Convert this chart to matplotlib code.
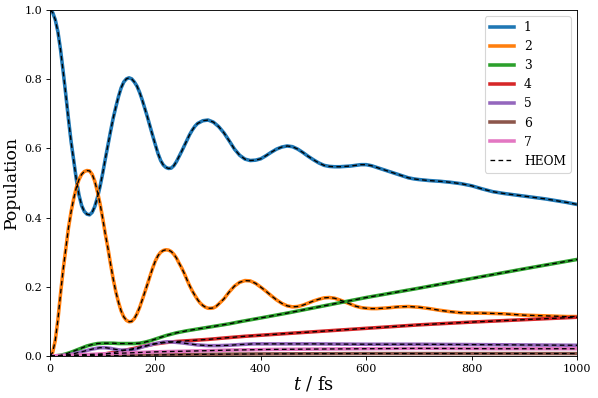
import matplotlib
matplotlib.use("Agg")
import matplotlib.pyplot as plt

# ---- data (t in fs, population) ----
t1 = [0, 5, 10, 15, 20, 25, 30, 35, 40, 45, 50, 55, 60, 65, 70, 75, 80, 85, 90, 95, 100,
      105, 110, 115, 120, 125, 130, 135, 140, 145, 150, 155, 160, 165, 170, 175, 180, 185,
      190, 195, 200, 205, 210, 215, 220, 225, 230, 235, 240, 245, 250, 255, 260, 265, 270,
      275, 280, 290, 300, 310, 320, 330, 340, 350, 360, 370, 380, 390, 400, 410, 420, 430,
      440, 450, 460, 470, 480, 490, 500, 510, 520, 530, 540, 550, 560, 570, 580, 590, 600,
      610, 620, 630, 640, 650, 660, 670, 680, 690, 700, 720, 740, 760, 780, 800, 820, 840,
      860, 880, 900, 920, 940, 960, 980, 1000]
p1 = [1.000, 0.993, 0.972, 0.937, 0.885, 0.822, 0.755, 0.685, 0.620, 0.565, 0.510, 0.465,
      0.435, 0.418, 0.410, 0.408, 0.415, 0.432, 0.458, 0.490, 0.528, 0.570, 0.610, 0.650,
      0.688, 0.720, 0.750, 0.775, 0.792, 0.801, 0.804, 0.801, 0.792, 0.780, 0.762, 0.740,
      0.715, 0.690, 0.663, 0.636, 0.610, 0.585, 0.565, 0.552, 0.545, 0.542, 0.543, 0.550,
      0.562, 0.577, 0.592, 0.608, 0.624, 0.640, 0.653, 0.664, 0.672, 0.680, 0.682, 0.676,
      0.663, 0.645, 0.622, 0.598, 0.580, 0.569, 0.565, 0.566, 0.570, 0.579, 0.589, 0.598,
      0.604, 0.607, 0.605, 0.598, 0.588, 0.577, 0.567, 0.558, 0.551, 0.548, 0.547, 0.547,
      0.548, 0.549, 0.551, 0.553, 0.553, 0.550, 0.545, 0.540, 0.535, 0.530, 0.525, 0.520,
      0.515, 0.512, 0.510, 0.507, 0.505, 0.502, 0.498, 0.492, 0.483, 0.475, 0.470, 0.466,
      0.462, 0.458, 0.454, 0.449, 0.444, 0.438]

t2 = [0, 5, 10, 15, 20, 25, 30, 35, 40, 45, 50, 55, 60, 65, 70, 75, 80, 85, 90, 95, 100,
      105, 110, 115, 120, 125, 130, 135, 140, 145, 150, 155, 160, 165, 170, 175, 180, 185,
      190, 195, 200, 205, 210, 215, 220, 225, 230, 235, 240, 245, 250, 255, 260, 265, 270,
      275, 280, 285, 290, 295, 300, 305, 310, 315, 320, 330, 340, 350, 360, 370, 380, 390,
      400, 410, 420, 430, 440, 450, 460, 470, 480, 490, 500, 510, 520, 530, 540, 550, 560,
      570, 580, 590, 600, 610, 620, 640, 660, 680, 700, 720, 740, 760, 780, 800, 820, 840,
      860, 880, 900, 920, 940, 960, 980, 1000]
p2 = [0.000, 0.010, 0.045, 0.105, 0.180, 0.250, 0.310, 0.370, 0.417, 0.455, 0.487, 0.510,
      0.525, 0.533, 0.536, 0.535, 0.525, 0.505, 0.475, 0.440, 0.398, 0.352, 0.311, 0.265,
      0.222, 0.185, 0.155, 0.130, 0.113, 0.103, 0.099, 0.100, 0.108, 0.122, 0.140, 0.162,
      0.185, 0.208, 0.232, 0.255, 0.275, 0.290, 0.300, 0.305, 0.307, 0.306, 0.302, 0.294,
      0.283, 0.268, 0.254, 0.238, 0.220, 0.203, 0.188, 0.175, 0.163, 0.153, 0.146, 0.141,
      0.138, 0.138, 0.139, 0.143, 0.150, 0.165, 0.185, 0.202, 0.213, 0.218, 0.217, 0.210,
      0.199, 0.187, 0.174, 0.162, 0.152, 0.145, 0.142, 0.143, 0.147, 0.153, 0.159, 0.164,
      0.168, 0.169, 0.167, 0.162, 0.156, 0.150, 0.144, 0.140, 0.138, 0.137, 0.137, 0.139,
      0.142, 0.143, 0.141, 0.137, 0.132, 0.128, 0.125, 0.124, 0.124, 0.123, 0.122, 0.120,
      0.118, 0.117, 0.116, 0.115, 0.114, 0.114]

t3 = [0, 10, 20, 30, 40, 50, 60, 70, 80, 90, 100, 110, 120, 130, 140, 150, 160, 170, 180,
      190, 200, 210, 220, 230, 240, 250, 260, 280, 300, 320, 340, 360, 400, 450, 500, 600,
      700, 800, 900, 1000]
p3 = [0.0, 0.0005, 0.002, 0.006, 0.011, 0.017, 0.023, 0.029, 0.033, 0.036, 0.037, 0.037,
      0.037, 0.036, 0.036, 0.036, 0.036, 0.037, 0.040, 0.044, 0.049, 0.054, 0.059, 0.063,
      0.067, 0.070, 0.073, 0.078, 0.083, 0.088, 0.093, 0.099, 0.110, 0.124, 0.139, 0.169,
      0.196, 0.224, 0.252, 0.279]

t4 = [0, 40, 80, 100, 120, 140, 160, 180, 200, 220, 240, 260, 280, 300, 330, 370, 400, 450,
      500, 600, 700, 800, 900, 1000]
p4 = [0.0, 0.0005, 0.002, 0.005, 0.010, 0.016, 0.022, 0.029, 0.035, 0.039, 0.042, 0.044,
      0.046, 0.048, 0.052, 0.057, 0.060, 0.065, 0.070, 0.080, 0.090, 0.098, 0.105, 0.112]

t5 = [0, 20, 40, 60, 80, 95, 105, 115, 125, 135, 145, 155, 165, 175, 185, 200, 215, 225, 235,
      250, 265, 280, 300, 320, 340, 360, 385, 420, 500, 600, 700, 800, 900, 1000]
p5 = [0.0, 0.001, 0.005, 0.012, 0.020, 0.024, 0.024, 0.022, 0.019, 0.017, 0.017, 0.018,
      0.021, 0.026, 0.030, 0.036, 0.040, 0.041, 0.040, 0.038, 0.035, 0.032, 0.030, 0.030,
      0.031, 0.033, 0.035, 0.035, 0.035, 0.034, 0.034, 0.033, 0.032, 0.031]

t6 = [0, 100, 200, 300, 400, 600, 1000]
p6 = [0.0, 0.001, 0.003, 0.005, 0.006, 0.007, 0.007]

t7 = [0, 50, 100, 150, 200, 260, 340, 420, 500, 600, 700, 850, 1000]
p7 = [0.0, 0.003, 0.006, 0.009, 0.012, 0.014, 0.017, 0.019, 0.020, 0.021, 0.022, 0.021, 0.021]

labels = ["1", "2", "3", "4", "5", "6", "7"]
colors = ["#1f77b4", "#ff7f0e", "#2ca02c", "#d62728", "#9467bd", "#8c564b", "#e377c2"]
xticks = [0, 200, 400, 600, 800, 1000]
yticks = [0.0, 0.2, 0.4, 0.6, 0.8, 1.0]

plt.rcParams['font.family'] = ['DejaVu Serif']
plt.rcParams['mathtext.fontset'] = 'dejavuserif'

fig = plt.figure(figsize=(598 / 80, 398 / 80), dpi=80)
ax = fig.add_axes([50 / 598, 1 - 356 / 398, 527 / 598, 346 / 398])

series = [(t1, p1), (t2, p2), (t3, p3), (t4, p4), (t5, p5), (t6, p6), (t7, p7)]
for (t, p), lab, c in zip(series, labels, colors):
    ax.plot(t, p, color=c, lw=3.2, label=lab, solid_joinstyle="round")
for i, (t, p) in enumerate(series):
    ax.plot(t, p, color="black", lw=1.2, ls="--", dashes=(3.5, 2.5),
            label="HEOM" if i == 0 else None)

ax.set_xlim(0, 1000)
ax.set_ylim(0, 1.0)
ax.set_xticks(xticks)
ax.set_yticks(yticks)
ax.tick_params(labelsize=10)
ax.set_xlabel("$t$ / fs", fontsize=16, labelpad=1)
ax.set_ylabel("Population", fontsize=15.5)

handles, labs = ax.get_legend_handles_labels()
ax.legend(handles, labs, loc="upper right", fontsize=11)

fig.savefig("out.png", dpi=80)
